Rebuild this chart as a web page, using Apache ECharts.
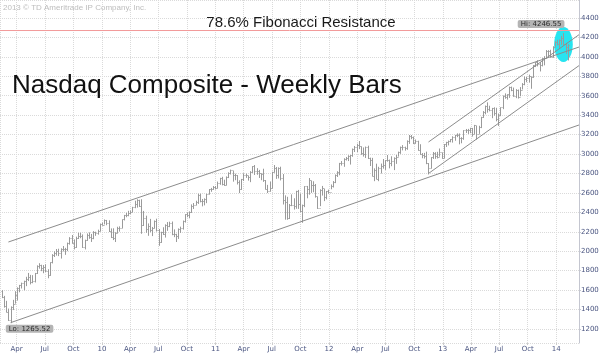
<!DOCTYPE html>
<html>
<head>
<meta charset="utf-8">
<script src="https://cdn.jsdelivr.net/npm/echarts@6/dist/echarts.min.js"></script>
<style>
html, body { margin: 0; padding: 0; background: #fff; }
#chart { width: 600px; height: 354px; }
</style>
</head>
<body>
<div id="chart"></div>
<script>
// weekly bars, one per week (week ending Friday), first week ends 2009-02-13
const firstWeek = [2009, 1, 13];
const firstOpen = 1591; // close of the week before the first bar

const closes = [
  // 2009
  1534,1441,1377,1293,1431,1457,1545,1622,1652,1673,1694,1719,1739,1680,1692,1774,1849,1858,1827,1838,1797,1756,1886,1965,1979,2000,1985,2020,2028,2018,2080,2133,2090,2048,2139,2156,2154,2045,2112,2167,2146,2138,2194,2190,2212,2285,2269,
  // 2010
  2317,2288,2205,2147,2141,2183,2243,2238,2327,2368,2374,2395,2402,2454,2481,2530,2461,2265,2347,2229,2257,2219,2243,2309,2223,2091,2196,2179,2269,2255,2288,2173,2179,2153,2233,2242,2315,2381,2370,2402,2468,2479,2507,2578,2518,2518,2534,2591,2637,2642,2665,2653,
  // 2011
  2703,2755,2689,2686,2769,2809,2834,2781,2784,2715,2643,2743,2789,2780,2764,2820,2873,2827,2828,2803,2796,2732,2643,2616,2652,2816,2859,2789,2859,2756,2532,2507,2341,2480,2480,2468,2622,2483,2415,2479,2667,2637,2738,2686,2678,2572,2441,2626,2646,2555,2618,2605,
  // 2012
  2675,2710,2787,2816,2905,2904,2951,2963,2977,2988,3055,3068,3092,3081,3011,3000,3069,2956,2934,2778,2838,2747,2858,2872,2892,2935,2937,2908,2925,2958,2967,3020,3076,3069,3066,3136,3183,3179,3116,3136,3044,3005,2987,2982,2904,2853,2967,3010,2978,2971,3021,2961,
  // 2013
  3101,3125,3135,3150,3179,3193,3198,3161,3170,3245,3249,3245,3268,3204,3295,3207,3279,3379,3437,3498,3459,3456,3469,3424,3357,3403,3479,3600,3588,3613,3689,3660,3602,3657,3590,3660,3722,3774,3781,3807,3791,3914,3943,3922,3919,3985,3991,4060,4062,4001,4104,4157,
  // 2014
  4131,4174,4197,4128,4104,4126
];
const highs = [
  1600,1541,1490,1410,1433,1500,1589,1628,1654,1677,1697,1737,1777,1757,1754,1777,1855,1877,1861,1858,1866,1815,1886,1970,1999,2023,2026,2030,2054,2035,2089,2145,2167,2122,2150,2190,2190,2173,2119,2183,2194,2178,2207,2201,2222,2285,2295,
  2327,2322,2318,2235,2236,2196,2252,2256,2327,2374,2395,2416,2419,2457,2520,2535,2530,2535,2415,2366,2286,2333,2250,2317,2335,2229,2201,2247,2277,2300,2304,2306,2225,2180,2235,2253,2316,2381,2400,2410,2482,2496,2520,2592,2592,2538,2544,2592,2640,2652,2671,2671,
  2717,2756,2766,2736,2770,2812,2840,2825,2798,2783,2730,2744,2802,2799,2776,2824,2875,2887,2855,2837,2801,2849,2733,2683,2718,2818,2887,2867,2863,2870,2794,2575,2560,2486,2585,2545,2622,2631,2592,2480,2669,2672,2753,2724,2720,2692,2561,2638,2672,2640,2620,2634,
  2687,2722,2790,2823,2909,2928,2957,2970,2988,2990,3057,3083,3106,3134,3078,3068,3077,3086,2963,2961,2853,2901,2869,2902,2949,2936,2990,2943,2977,2966,2991,3025,3077,3092,3076,3141,3196,3196,3180,3150,3137,3101,3010,3012,3025,2907,2968,3021,3019,3023,3057,3014,
  3103,3126,3139,3154,3183,3197,3213,3212,3174,3245,3258,3259,3270,3269,3300,3289,3291,3383,3442,3499,3532,3497,3475,3481,3476,3417,3480,3603,3624,3614,3694,3694,3684,3668,3664,3689,3730,3798,3793,3817,3796,3915,3944,3965,3946,3987,4007,4070,4069,4073,4109,4161,
  4176,4179,4215,4247,4145,4131
];
const lows = [
  1523,1425,1377,1288,1265,1400,1466,1497,1583,1622,1603,1646,1698,1664,1676,1684,1771,1826,1800,1779,1791,1727,1752,1880,1946,1960,1955,1930,2003,1968,2006,2073,2084,2024,2040,2131,2139,2040,2024,2112,2133,2101,2129,2164,2176,2210,2269,
  2281,2273,2203,2141,2120,2100,2190,2207,2243,2322,2355,2365,2387,2408,2448,2454,2461,2185,2265,2195,2164,2201,2161,2240,2208,2061,2091,2173,2146,2215,2253,2170,2150,2100,2132,2194,2228,2300,2355,2344,2400,2440,2479,2492,2508,2467,2477,2500,2590,2617,2637,2641,
  2652,2689,2683,2678,2683,2758,2795,2721,2736,2692,2603,2637,2728,2760,2732,2716,2811,2790,2792,2759,2736,2719,2641,2604,2619,2652,2815,2750,2754,2734,2486,2330,2329,2337,2469,2434,2442,2441,2405,2298,2459,2550,2587,2606,2612,2557,2441,2469,2578,2521,2539,2597,
  2643,2661,2706,2769,2787,2887,2874,2939,2933,2897,2977,3026,3026,3056,2997,2979,2965,2954,2882,2776,2726,2747,2726,2805,2855,2842,2927,2858,2880,2840,2904,2979,3007,3043,3040,3049,3110,3158,3108,3112,3040,2998,2962,2959,2901,2795,2857,2955,2956,2960,2978,2956,
  2961,3078,3094,3126,3123,3142,3179,3105,3116,3152,3222,3212,3220,3185,3212,3154,3213,3272,3377,3414,3431,3445,3374,3400,3342,3294,3395,3467,3574,3565,3583,3652,3595,3580,3576,3600,3670,3713,3744,3740,3677,3790,3900,3907,3855,3907,3918,3989,4006,3999,3997,4109,
  4123,4096,4128,4125,4036,3968
];

const xMin = '2009-02-07';
const xMax = '2014-03-15';
const fibLevel = 4271;
const hiPoint = ['2014-01-24', 4246.55];
const loPoint = ['2009-03-13', 1265.52];
const trendLines = [
  [['2009-03-06', 2095], ['2014-03-15', 4101]],
  [['2009-03-13', 1265], ['2014-03-15', 3299]],
  [['2012-11-16', 2800], ['2014-03-15', 3910]],
  [['2012-11-16', 3124], ['2014-03-15', 4228]]
];
const highlight = { date: '2014-01-24', value: 4127, days: 30, range: 180 };
const monthNames = ['Jan','Feb','Mar','Apr','May','Jun','Jul','Aug','Sep','Oct','Nov','Dec'];

const chart = echarts.init(document.getElementById('chart'));

const bars = [];
let d = new Date(firstWeek[0], firstWeek[1], firstWeek[2]);
for (let i = 0; i < closes.length; i++) {
  const open = i === 0 ? firstOpen : closes[i - 1];
  bars.push([d.getTime(), open, highs[i], lows[i], closes[i]]);
  d = new Date(d.getFullYear(), d.getMonth(), d.getDate() + 7);
}

const axisFont = 'DejaVu Sans';
const labelBox = {
  show: true,
  backgroundColor: '#b4b4b4',
  borderRadius: 2,
  padding: [1, 3, 0, 3],
  color: '#2a2a2a',
  fontSize: 7,
  fontFamily: axisFont
};

const option = {
  backgroundColor: '#fff',
  animation: false,
  grid: { left: 0, right: 21, top: 0, bottom: 11, containLabel: false, outerBoundsMode: 'none' },
  xAxis: {
    type: 'time',
    min: xMin,
    max: xMax,
    splitNumber: 20,
    minInterval: 3600 * 24 * 1000 * 85,
    maxInterval: 3600 * 24 * 1000 * 100,
    axisLine: { show: false },
    axisTick: { show: true, length: 2, lineStyle: { color: '#ccc' } },
    splitLine: { show: true, lineStyle: { color: '#dadada', type: 'dotted' } },
    axisLabel: {
      color: '#4a5580',
      fontSize: 7,
      fontFamily: axisFont,
      margin: 3,
      hideOverlap: false,
      formatter: function (v) {
        const t = new Date(v);
        if (t.getMonth() === 0) return String(t.getFullYear()).slice(2);
        return monthNames[t.getMonth()];
      }
    }
  },
  yAxis: {
    type: 'value',
    position: 'right',
    min: 1056,
    max: 4585,
    splitNumber: 17,
    minInterval: 200,
    maxInterval: 200,
    axisLine: { show: true, lineStyle: { color: '#c4c6d0', width: 1 } },
    axisTick: { show: true, length: 2, lineStyle: { color: '#c4c6d0' } },
    splitLine: { show: true, lineStyle: { color: '#dadada', type: 'dotted' } },
    axisLabel: {
      showMinLabel: false,
      showMaxLabel: false,
      color: '#4a5580',
      fontSize: 7,
      fontFamily: axisFont,
      margin: 2,
      formatter: function (v) { return String(v); }
    }
  },
  series: [
    {
      type: 'custom',
      z: 1,
      data: [[highlight.date, highlight.value]],
      renderItem: function (params, api) {
        const c = api.coord([api.value(0), api.value(1)]);
        const s = api.size([highlight.days * 86400000, highlight.range]);
        return {
          type: 'ellipse',
          shape: { cx: c[0], cy: c[1], rx: s[0], ry: s[1] },
          style: { fill: '#27e4f0' }
        };
      }
    },
    {
      type: 'custom',
      z: 2,
      data: bars,
      renderItem: function (params, api) {
        const x = api.value(0);
        const hi = api.coord([x, api.value(2)]);
        const lo = api.coord([x, api.value(3)]);
        const op = api.coord([x, api.value(1)]);
        const cl = api.coord([x, api.value(4)]);
        const px = Math.round(hi[0]) + 0.5;
        const st = { stroke: '#9a9a9a', lineWidth: 1 };
        return {
          type: 'group',
          children: [
            { type: 'line', shape: { x1: px, y1: hi[1], x2: px, y2: lo[1] + 0.5 }, style: st },
            { type: 'line', shape: { x1: px - 1, y1: Math.round(op[1]) + 0.5, x2: px, y2: Math.round(op[1]) + 0.5 }, style: st },
            { type: 'line', shape: { x1: px, y1: Math.round(cl[1]) + 0.5, x2: px + 1, y2: Math.round(cl[1]) + 0.5 }, style: st }
          ]
        };
      },
      markPoint: {
        symbol: 'circle',
        symbolSize: 0,
        data: [
          { coord: hiPoint, label: Object.assign({}, labelBox, { formatter: 'Hi: 4246.55', position: 'left', distance: 0, offset: [1, -9] }) },
          { coord: loPoint, label: Object.assign({}, labelBox, { formatter: 'Lo: 1265.52', position: 'bottom', distance: 2, offset: [19, 0] }) }
        ]
      }
    },
    {
      type: 'line',
      z: 3,
      data: [[xMin, fibLevel], [xMax, fibLevel]],
      symbol: 'none',
      silent: true,
      lineStyle: { color: '#f29a9a', width: 1 }
    }
  ].concat(trendLines.map(function (seg) {
    return {
      type: 'line',
      z: 3,
      data: seg,
      symbol: 'none',
      silent: true,
      lineStyle: { color: '#8c8c8c', width: 1 }
    };
  })),
  graphic: [
    {
      type: 'text', left: 3, top: 4, z: 10,
      style: { text: '2013 \u00a9 TD Ameritrade IP Company, Inc.', fill: '#bdbdbd', font: '8px "Liberation Sans"' }
    },
    {
      type: 'text', x: 301, y: 23, z: 10,
      style: { text: '78.6% Fibonacci Resistance', fill: '#1a1a1a', font: '15px "Liberation Sans"', align: 'center', verticalAlign: 'middle' }
    },
    {
      type: 'text', x: 12, y: 86, z: 10,
      style: { text: 'Nasdaq Composite - Weekly Bars', fill: '#111', font: '26px "Liberation Sans"', verticalAlign: 'middle' }
    }
  ]
};

chart.setOption(option);
</script>
</body>
</html>
